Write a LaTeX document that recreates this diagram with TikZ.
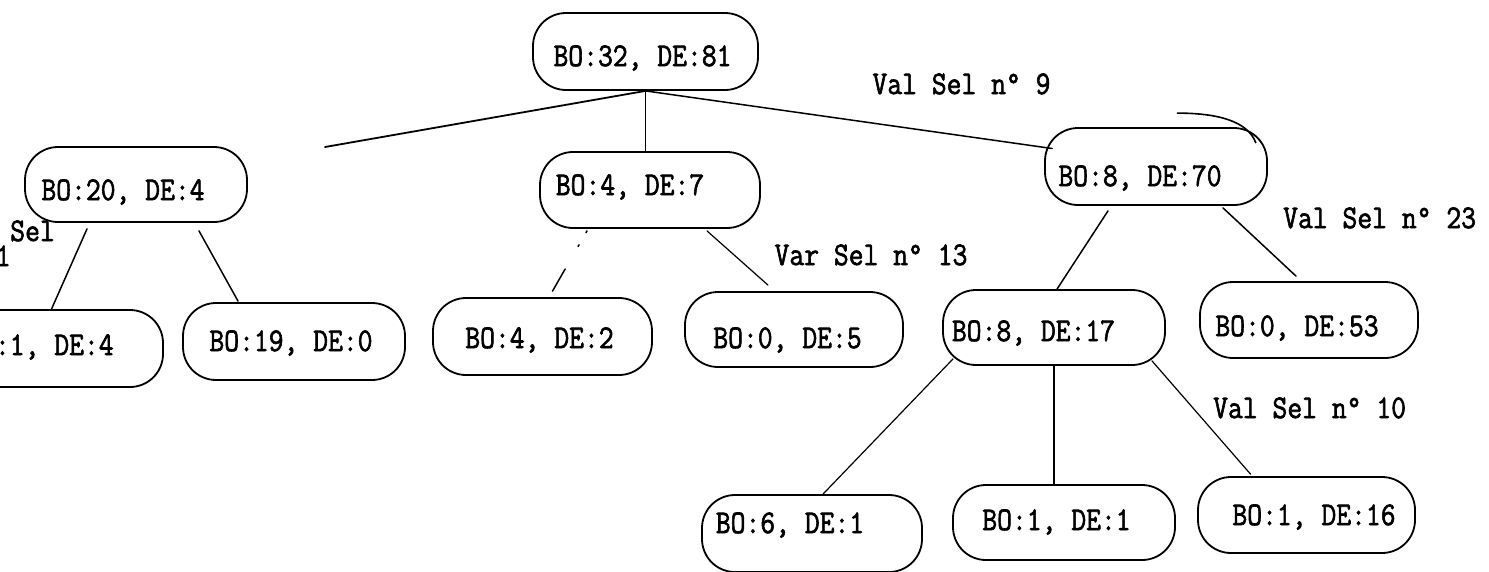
\documentclass[tikz,border=0pt]{standalone}
\usepackage{fontspec}
\newfontfamily\tw{Latin Modern Mono}[FakeBold=2]
\usetikzlibrary{calc}
\newcommand\tx[1]{\scalebox{1}[1.15]{#1}}
\tikzset{
  box/.style={draw, line width=1.8pt, rounded corners=33pt, inner sep=0pt},
  lbl/.style={inner sep=0pt, text height=0.61em, text depth=0pt, font=\tw\fontsize{28.8}{34}\selectfont},
  edge/.style={line width=1.5pt, line cap=round},
}
\begin{document}
\begin{tikzpicture}[x=1pt, y=-1pt]
\clip (0,0) rectangle (1489,571);
% boxes
\node[box, minimum width=225pt, minimum height=77pt] (r) at (645.5,51.5) {};
\node[box, minimum width=222pt, minimum height=75pt] (a) at (136,184.5) {};
\node[box, minimum width=220pt, minimum height=76pt] (b) at (650,190) {};
\node[box, minimum width=222pt, minimum height=77pt] (c) at (1156,166.5) {};
\node[box, minimum width=223pt, minimum height=77pt] (d) at (51.5,348.5) {};
\node[box, minimum width=222pt, minimum height=77pt] (e) at (294,341.5) {};
\node[box, minimum width=219pt, minimum height=77pt] (f) at (542.5,336.5) {};
\node[box, minimum width=218pt, minimum height=75pt] (g) at (794,329.5) {};
\node[box, minimum width=222pt, minimum height=75pt] (h) at (1054,327.5) {};
\node[box, minimum width=218pt, minimum height=76pt] (i) at (1309,320) {};
\node[box, minimum width=220pt, minimum height=77pt] (j) at (812,533.5) {};
\node[box, minimum width=222pt, minimum height=75pt] (k) at (1064,522.5) {};
\node[box, minimum width=217pt, minimum height=76pt] (l) at (1306.5,515) {};
% texts
\node[lbl] (rt) at (642.5,63) {\tx{BO:32, DE:81}};
\node[lbl] (at) at (123,197) {\tx{BO:20, DE:4}};
\node[lbl] (bt) at (630,192) {\tx{BO:4, DE:7}};
\node[lbl] (ct) at (1140,183) {\tx{BO:8, DE:70}};
\node[lbl] (dt) at (39.5,352) {\tx{BO:1, DE:4}};
\node[lbl] (et) at (291,348) {\tx{BO:19, DE:0}};
\node[lbl] (ft) at (539.5,345) {\tx{BO:4, DE:2}};
\node[lbl] (gt) at (787.5,345) {\tx{BO:0, DE:5}};
\node[lbl] (ht) at (1033.5,338) {\tx{BO:8, DE:17}};
\node[lbl] (it) at (1297,333) {\tx{BO:0, DE:53}};
\node[lbl] (jt) at (790,530) {\tx{BO:6, DE:1}};
\node[lbl] (kt) at (1056.5,527) {\tx{BO:1, DE:1}};
\node[lbl] (lt) at (1314,522) {\tx{BO:1, DE:16}};
% edge labels
\node[lbl] (l9) at (961.5,91) {\tx{Val Sel n° 9}};
\node[lbl] (l13) at (871,262) {\tx{Var Sel n° 13}};
\node[lbl, anchor=west] (l23) at (1283,225) {\tx{Val Sel n° 23}};
\node[lbl, anchor=west] (l10) at (1213,415) {\tx{Val Sel n° 10}};
\node[lbl, anchor=east] (lsel) at (55,238) {\tx{Var Sel}};
\node[lbl, anchor=east] (lone) at (11,263) {\tx{n° 1}};
% connectors
\coordinate (aend) at (325,147);
\draw[edge, line width=1.8pt] (r.south) -- (aend);
\draw[edge] (r.south) -- (r.south |- b.north);
\draw[edge] (r.south) -- ($(c.west)+(8,-18)$);
\draw[edge] ($(a.south)+(-49,6)$) -- (d.north);
\draw[edge] ($(a.south)+(63,8)$) -- ($(e.north)+(-56,-1)$);
\draw[edge, dash pattern=on 2pt off 14pt on 2pt off 26pt on 40pt] ($(b.south)+(-63,2)$) -- ($(f.north)+(10,-6)$);
\draw[edge, line width=1.2pt] ($(b.south)+(57,2)$) -- ($(g.north)+(-26,-6)$);
\draw[edge] ($(c.south)+(-48,5)$) -- ($(h.north)+(3,0)$);
\draw[edge] ($(c.south)+(67,2)$) -- ($(i.north)+(-13,-5)$);
\draw[edge, line width=1.2pt] ($(h.south)+(-101,-7)$) -- ($(j.north)+(11,0)$);
\draw[edge, line width=1.2pt] (h.south) -- (h.south |- k.north);
\draw[edge, line width=1.2pt] ($(h.south)+(98,-5)$) -- ($(l.north)+(-56,-2)$);
% overshoot stroke above box c
\draw[line width=1.6pt] ($(c.north east)+(-91,-14)$) .. controls ($(c.north east)+(-50,-14)$) and ($(c.north east)+(-20,-6)$) .. ($(c.north east)+(-12,16)$);
\end{tikzpicture}
\end{document}
